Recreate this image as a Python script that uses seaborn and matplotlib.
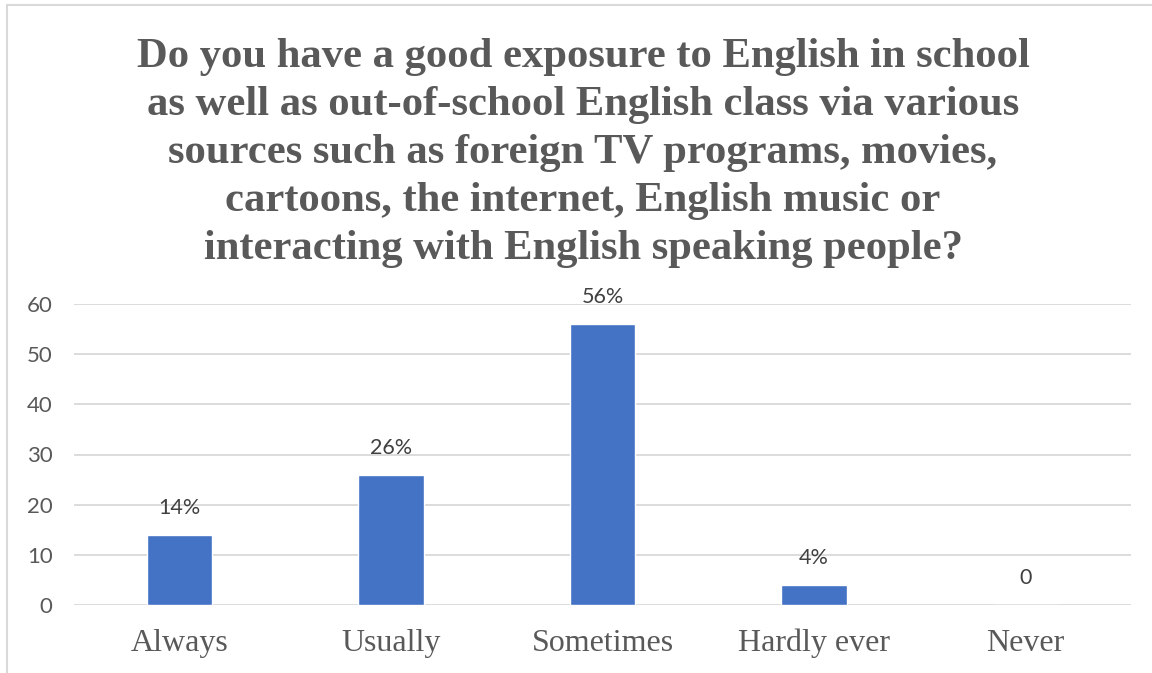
import matplotlib
matplotlib.use("Agg")
import matplotlib.pyplot as plt
from matplotlib.lines import Line2D
import seaborn as sns
import pandas as pd

categories = ["Always", "Usually", "Sometimes", "Hardly ever", "Never"]
values = [14, 26, 56, 4, 0]
yticks = [0, 10, 20, 30, 40, 50, 60]
title = ("Do you have a good exposure to English in school\n"
         "as well as out-of-school English class via various\n"
         "sources such as foreign TV programs, movies,\n"
         "cartoons, the internet, English music or\n"
         "interacting with English speaking people?")

sns.set_theme(style="white")
plt.rcParams["font.family"] = ["Lato", "DejaVu Sans"]

grey = "#595959"
bar_color = "#4472C4"
grid_color = "#d9d9d9"

df = pd.DataFrame({"category": categories, "value": values})

fig = plt.figure(figsize=(11.52, 6.73), dpi=100)
ax = fig.add_axes([74 / 1152, 68 / 673, 1057 / 1152, 301 / 673])

sns.barplot(data=df, x="category", y="value", color=bar_color,
            width=0.31, saturation=1, ax=ax, zorder=3)

ax.set_ylim(0, 60)
ax.set_xlim(-0.5, len(categories) - 0.5)
ax.set_yticks(yticks)
ax.yaxis.grid(True, color=grid_color, linewidth=1.3, zorder=0)
ax.set_axisbelow(True)
for s in ax.spines.values():
    s.set_visible(False)
ax.set_xlabel("")
ax.set_ylabel("")
ax.tick_params(axis="y", length=0, pad=15.5, labelsize=16, labelcolor=grey)
ax.tick_params(axis="x", length=0, pad=17, labelcolor=grey)
for lab in ax.get_xticklabels():
    lab.set_fontfamily("Liberation Serif")
    lab.set_fontsize(23)

# value labels above each bar
for i, v in enumerate(values):
    txt = f"{v}%" if v else f"{v}"
    ax.annotate(txt, (i, v), xytext=(0, 12), textcoords="offset points",
                ha="center", va="bottom", fontsize=15.5, color="#404040")

fig.text(583 / 1152, 1 - 38 / 673, title, ha="center", va="top",
         fontfamily="Liberation Serif", fontweight="bold", fontsize=30.7,
         color=grey, linespacing=1.345)

# chart area border (left and top edges)
fig.add_artist(Line2D([7 / 1152, 7 / 1152], [0, 1 - 5 / 673],
                      transform=fig.transFigure, color=grid_color, lw=1.5))
fig.add_artist(Line2D([7 / 1152, 1], [1 - 5 / 673, 1 - 5 / 673],
                      transform=fig.transFigure, color=grid_color, lw=1.5))

fig.savefig("out.png", dpi=100, facecolor="white")
